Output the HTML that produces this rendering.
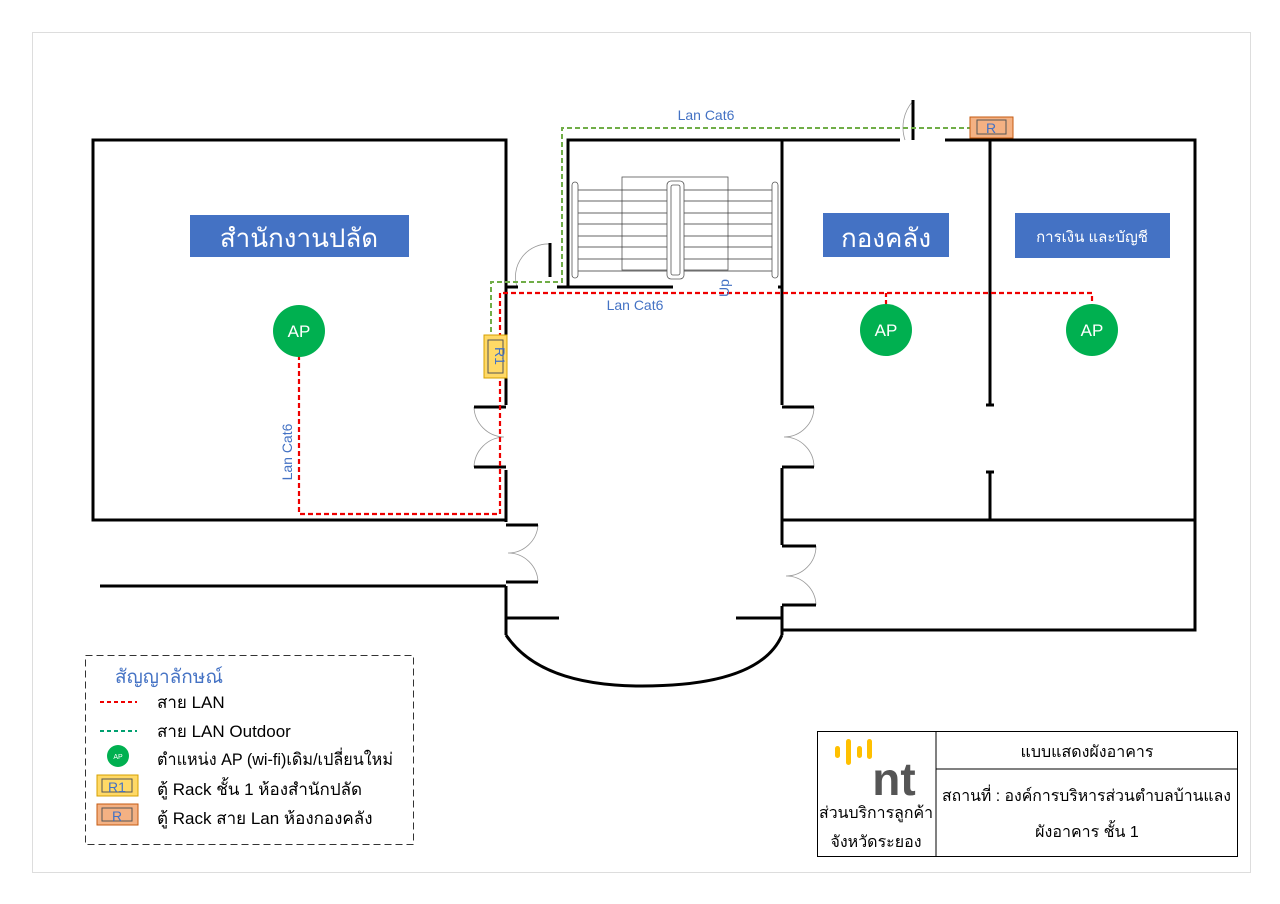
<!DOCTYPE html>
<html><head><meta charset="utf-8"><style>
body{margin:0;background:#fff;}
svg{display:block;font-family:"Liberation Sans","Noto Sans CJK SC",sans-serif;}
</style></head><body>
<svg width="1280" height="904" viewBox="0 0 1280 904" xmlns="http://www.w3.org/2000/svg">
<rect x="0" y="0" width="1280" height="904" fill="#fff"/>
<rect x="32.5" y="32.5" width="1218" height="840" fill="none" stroke="#ddd" stroke-width="1"/>

<!-- stairs -->
<g stroke="#555" stroke-width="0.8" fill="none">
<rect x="622" y="177" width="106" height="93"/>
<g stroke="#333">
<line x1="574" y1="190" x2="778" y2="190"/><line x1="574" y1="201" x2="778" y2="201"/>
<line x1="574" y1="213" x2="778" y2="213"/><line x1="574" y1="224" x2="778" y2="224"/>
<line x1="574" y1="236" x2="778" y2="236"/><line x1="574" y1="247" x2="778" y2="247"/>
<line x1="574" y1="259" x2="778" y2="259"/><line x1="574" y1="271" x2="778" y2="271"/>
</g>
<rect x="667" y="181" width="17" height="98" rx="4" fill="#fff"/>
<rect x="671" y="185" width="9" height="90" rx="2"/>
<rect x="572" y="182" width="6" height="96" rx="3" fill="#fff"/>
<rect x="772" y="182" width="6" height="96" rx="3" fill="#fff"/>
</g>

<!-- door arcs -->
<g stroke="#999" stroke-width="0.8" fill="none">
<path d="M517 287 A33 33 0 0 1 550 244"/>
<path d="M913 101 A40 40 0 0 0 905 140"/>
<path d="M474 407 A31 31 0 0 0 504 437 A31 31 0 0 0 474 467"/>
<path d="M538 525 A30 30 0 0 1 508 553 A30 30 0 0 1 538 582"/>
<path d="M814 407 A30 30 0 0 1 784 437 A30 30 0 0 1 814 467"/>
<path d="M816 546 A30 30 0 0 1 786 576 A30 30 0 0 1 816 605"/>
</g>

<!-- walls -->
<g stroke="#000" stroke-width="3" fill="none" stroke-linecap="butt">
<polyline points="506,405 506,140 93,140 93,520 506,520"/>
<polyline points="506,470 506,522"/>
<line x1="474" y1="407" x2="506" y2="407"/><line x1="474" y1="467" x2="506" y2="467"/>
<line x1="506" y1="287" x2="518" y2="287"/>
<line x1="100" y1="586" x2="506" y2="586"/>
<polyline points="506,586 506,635"/>
<line x1="506" y1="618" x2="559" y2="618"/>
<line x1="506" y1="525" x2="538" y2="525"/><line x1="506" y1="582" x2="538" y2="582"/>
<path d="M506 635 Q540 686 642 686 Q760 686 782 635"/>
<polyline points="782,635 782,606"/>
<line x1="736" y1="618" x2="782" y2="618"/>
<line x1="782" y1="546" x2="816" y2="546"/><line x1="782" y1="605" x2="816" y2="605"/>
<polyline points="782,545 782,468"/>
<line x1="782" y1="407" x2="814" y2="407"/><line x1="782" y1="467" x2="814" y2="467"/>
<polyline points="782,405 782,140"/>
<line x1="782" y1="520" x2="1195" y2="520"/>
<polyline points="782,630 1195,630 1195,140 945,140"/>
<polyline points="900,140 568,140 568,287"/>
<line x1="557" y1="287" x2="673" y2="287"/>
<line x1="550" y1="243" x2="550" y2="277"/>
<line x1="913" y1="100" x2="913" y2="140"/>
<line x1="990" y1="140" x2="990" y2="405"/>
<line x1="990" y1="472" x2="990" y2="520"/>
<line x1="986" y1="405" x2="994" y2="405"/><line x1="986" y1="472" x2="994" y2="472"/>
<line x1="778" y1="287" x2="782" y2="287"/>
</g>

<!-- cables -->
<polyline points="491,340 491,282 562,282 562,128 975,128" fill="none" stroke="#70ad47" stroke-width="2" stroke-dasharray="5,3"/>
<polyline points="299,355 299,514 500,514 500,293 1092,293 1092,318" fill="none" stroke="#e00" stroke-width="2.2" stroke-dasharray="5,3"/>
<line x1="886" y1="293" x2="886" y2="304" stroke="#e00" stroke-width="2.2" stroke-dasharray="4,3"/>

<!-- racks -->
<rect x="970" y="117" width="43" height="21" fill="#f4b183" stroke="#c55a11" stroke-width="1"/>
<rect x="977" y="120" width="29" height="14" fill="none" stroke="#555" stroke-width="1"/>
<text x="991" y="133" font-size="14" fill="#4472c4" text-anchor="middle">R</text>
<rect x="484" y="335" width="23" height="43" fill="#ffd966" stroke="#d6a000" stroke-width="1"/>
<rect x="488" y="340" width="15" height="33" fill="none" stroke="#555" stroke-width="1"/>
<text x="495" y="356" font-size="14" fill="#4472c4" text-anchor="middle" transform="rotate(90 495 356)">R1</text>

<!-- labels -->
<rect x="190" y="215" width="219" height="42" fill="#4472c4"/>
<text x="299" y="247" font-size="26" fill="#fff" text-anchor="middle">สำนักงานปลัด</text>
<rect x="823" y="213" width="126" height="44" fill="#4472c4"/>
<text x="886" y="247" font-size="26" fill="#fff" text-anchor="middle">กองคลัง</text>
<rect x="1015" y="213" width="155" height="45" fill="#4472c4"/>
<text x="1092" y="242" font-size="15" fill="#fff" text-anchor="middle">การเงิน และบัญชี</text>

<g fill="#00b050"><circle cx="299" cy="331" r="26"/><circle cx="886" cy="330" r="26"/><circle cx="1092" cy="330" r="26"/></g>
<g font-size="17" fill="#fff" text-anchor="middle"><text x="299" y="337">AP</text><text x="886" y="336">AP</text><text x="1092" y="336">AP</text></g>

<g font-size="14" fill="#4472c4">
<text x="706" y="120" text-anchor="middle">Lan Cat6</text>
<text x="635" y="310" text-anchor="middle">Lan Cat6</text>
<text x="292" y="452" text-anchor="middle" transform="rotate(-90 292 452)">Lan Cat6</text>
<text x="729" y="288" text-anchor="middle" transform="rotate(-90 729 288)">Up</text>
</g>

<!-- legend -->
<rect x="85.5" y="655.5" width="328" height="189" fill="none" stroke="#333" stroke-width="1" stroke-dasharray="7,4"/>
<text x="115" y="683" font-size="19" fill="#4472c4">สัญญาลักษณ์</text>
<line x1="100" y1="702" x2="137" y2="702" stroke="#e00" stroke-width="2" stroke-dasharray="4,3"/>
<line x1="100" y1="731" x2="137" y2="731" stroke="#00a070" stroke-width="2" stroke-dasharray="4,3"/>
<circle cx="118" cy="756" r="11" fill="#00b050"/>
<text x="118" y="759" font-size="7" fill="#fff" text-anchor="middle">AP</text>
<rect x="97" y="775" width="41" height="21" fill="#ffd966" stroke="#d6a000"/>
<rect x="102" y="779" width="30" height="13" fill="none" stroke="#555"/>
<text x="117" y="792" font-size="14" fill="#4472c4" text-anchor="middle">R1</text>
<rect x="97" y="804" width="41" height="21" fill="#f4b183" stroke="#c55a11"/>
<rect x="102" y="808" width="30" height="13" fill="none" stroke="#555"/>
<text x="117" y="821" font-size="14" fill="#4472c4" text-anchor="middle">R</text>
<g font-size="17" fill="#000">
<text x="157" y="708">สาย LAN</text>
<text x="157" y="737">สาย LAN Outdoor</text>
<text x="157" y="765" textLength="236" lengthAdjust="spacingAndGlyphs">ตำแหน่ง AP (wi-fi)เดิม/เปลี่ยนใหม่</text>
<text x="157" y="795">ตู้ Rack ชั้น 1 ห้องสำนักปลัด</text>
<text x="157" y="824">ตู้ Rack สาย Lan ห้องกองคลัง</text>
</g>

<!-- title block -->
<rect x="817.5" y="731.5" width="420" height="125" fill="none" stroke="#000" stroke-width="1"/>
<line x1="936" y1="731" x2="936" y2="856" stroke="#000"/>
<line x1="936" y1="769" x2="1237" y2="769" stroke="#000"/>
<g fill="#ffc000"><rect x="835" y="746" width="5" height="12" rx="2.5"/><rect x="846" y="739" width="5" height="26" rx="2.5"/><rect x="857" y="746" width="5" height="12" rx="2.5"/><rect x="867" y="739" width="5" height="20" rx="2.5"/></g>
<text x="894" y="795" font-size="46" font-weight="bold" fill="#555" text-anchor="middle">nt</text>
<g font-size="16" fill="#000">
<text x="819" y="818" textLength="114" lengthAdjust="spacingAndGlyphs">ส่วนบริการลูกค้า</text>
<text x="876" y="847" text-anchor="middle">จังหวัดระยอง</text>
<text x="1087" y="757" text-anchor="middle">แบบแสดงผังอาคาร</text>
<text x="942" y="801" textLength="289" lengthAdjust="spacingAndGlyphs">สถานที่  : องค์การบริหารส่วนตำบลบ้านแลง</text>
<text x="1087" y="837" text-anchor="middle">ผังอาคาร ชั้น 1</text>
</g>
</svg>
</body></html>
